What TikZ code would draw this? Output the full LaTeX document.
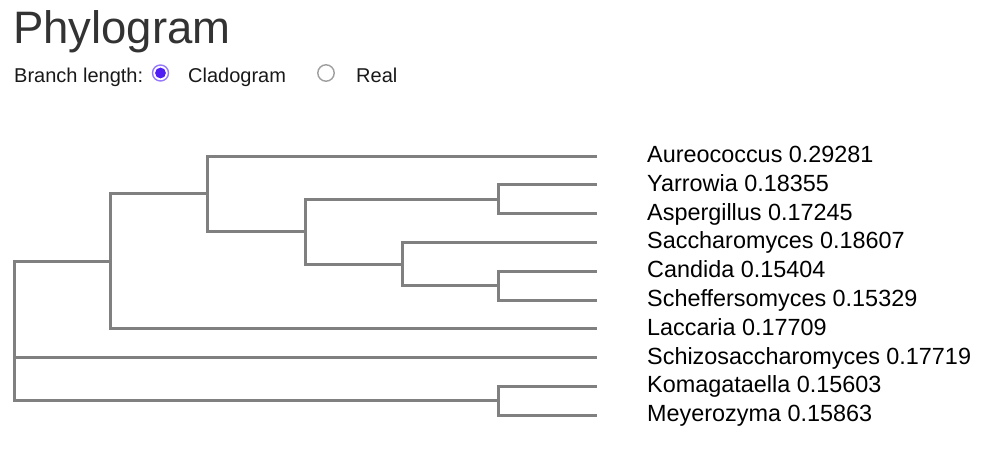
\documentclass[tikz,border=0pt]{standalone}
\usepackage{fontspec}
\setmainfont{Liberation Sans}
\usepackage{xcolor}
\usetikzlibrary{positioning}

\definecolor{branchgray}{RGB}{128,128,128}
\definecolor{titlegray}{RGB}{51,51,51}
\definecolor{radioblue}{RGB}{80,30,245}

\begin{document}
\begin{tikzpicture}[
  x=1pt, y=-1pt,
  branch/.style={draw=branchgray, line width=3pt},
  taxon/.style={anchor=base west, inner sep=0pt, yshift=-6.5pt,
                font=\fontsize{23.4}{26}\selectfont, text=black},
  formtext/.style={anchor=base west, inner sep=0pt,
                   font=\fontsize{20}{24}\selectfont, text=black!90}
]
\useasboundingbox (0,0) rectangle (993,458);

% header
\node[anchor=base west, inner sep=0pt, text=titlegray,
      font=\fontsize{45.5}{50}\selectfont] (title) at (13,43.5) {Phylogram};
\node[formtext] (brlen) at (14,82.5) {Branch length:};
\node[formtext] (clado) at (188,82.5) {Cladogram};
\node[formtext] (real) at (356,82.5) {Real};
\coordinate (radioA) at (160.5,73);
\coordinate (radioB) at (326,73);
\draw[radioblue!60, line width=1.4pt] (radioA) circle[radius=8];
\fill[radioblue] (radioA) circle[radius=5.4];
\draw[gray!75, line width=1.4pt] (radioB) circle[radius=8.2];

% leaf tips
\coordinate (t0) at (597,156);
\coordinate (t1) at (597,184.8);
\coordinate (t2) at (597,213.6);
\coordinate (t3) at (597,242.4);
\coordinate (t4) at (597,271.2);
\coordinate (t5) at (597,300);
\coordinate (t6) at (597,328.8);
\coordinate (t7) at (597,357.6);
\coordinate (t8) at (597,386.4);
\coordinate (t9) at (597,415.2);

% internal nodes
\coordinate (root) at (14,331);
\coordinate (n1) at (110,261.3);
\coordinate (n2) at (207,193.8);
\coordinate (n3) at (305,231.6);
\coordinate (n4) at (498,199.2);
\coordinate (n5) at (402,264);
\coordinate (n6) at (498,285.6);
\coordinate (n7) at (498,400.8);

\draw[branch] (root) |- (n1);
\draw[branch] (root) |- (t7);
\draw[branch] (root) |- (n7);
\draw[branch] (n1) |- (n2);
\draw[branch] (n1) |- (t6);
\draw[branch] (n2) |- (t0);
\draw[branch] (n2) |- (n3);
\draw[branch] (n3) |- (n4);
\draw[branch] (n3) |- (n5);
\draw[branch] (n4) |- (t1);
\draw[branch] (n4) |- (t2);
\draw[branch] (n5) |- (t3);
\draw[branch] (n5) |- (n6);
\draw[branch] (n6) |- (t4);
\draw[branch] (n6) |- (t5);
\draw[branch] (n7) |- (t8);
\draw[branch] (n7) |- (t9);

% taxon labels
\node[taxon] (l0) at (647,156)   {Aureococcus 0.29281};
\node[taxon] (l1) at (647,184.8) {Yarrowia 0.18355};
\node[taxon] (l2) at (647,213.6) {Aspergillus 0.17245};
\node[taxon] (l3) at (647,242.4) {Saccharomyces 0.18607};
\node[taxon] (l4) at (647,271.2) {Candida 0.15404};
\node[taxon] (l5) at (647,300)   {Scheffersomyces 0.15329};
\node[taxon] (l6) at (647,328.8) {Laccaria 0.17709};
\node[taxon] (l7) at (647,357.6) {Schizosaccharomyces 0.17719};
\node[taxon] (l8) at (647,386.4) {Komagataella 0.15603};
\node[taxon] (l9) at (647,415.2) {Meyerozyma 0.15863};
\end{tikzpicture}
\end{document}
